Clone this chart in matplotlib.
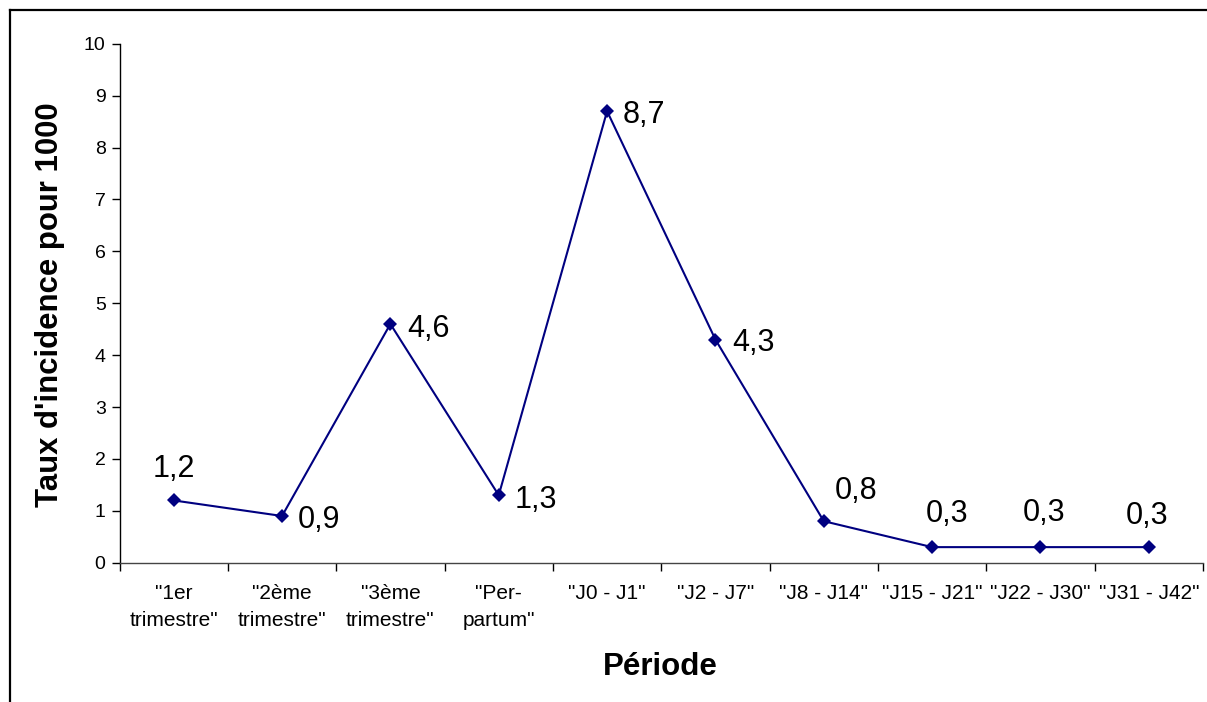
# -*- coding: utf-8 -*-
# Taux d'incidence par periode - courbe style Excel

import matplotlib
matplotlib.use('Agg')
import matplotlib.pyplot as plt
from matplotlib.lines import Line2D
import numpy as np

plt.rcParams['font.family'] = ['Liberation Sans', 'DejaVu Sans']

# Donnees
periodes = ['"1er\ntrimestre"', '"2ème\ntrimestre"', '"3ème\ntrimestre"', '"Per-\npartum"',
            '"J0 - J1"', '"J2 - J7"', '"J8 - J14"', '"J15 - J21"', '"J22 - J30"', '"J31 - J42"']
taux = [1.2, 0.9, 4.6, 1.3, 8.7, 4.3, 0.8, 0.3, 0.3, 0.3]
etiquettes = ['1,2', '0,9', '4,6', '1,3', '8,7', '4,3', '0,8', '0,3', '0,3', '0,3']

# placement des etiquettes (decalage en pixels, alignement)
decalages = [(0, 35, 'center'), (16, -1, 'left'), (17, -2, 'left'), (16, -1, 'left'),
             (16, 0, 'left'), (17, 0, 'left'), (32, 34, 'center'), (15, 37, 'center'),
             (4, 38, 'center'), (-2, 35, 'center')]

fig = plt.figure(figsize=(12.07, 7.02), dpi=100)
ax = fig.add_axes([119.5/1207, 1 - 562.7/702, (1203 - 119.5)/1207, (562.7 - 43.7)/702])

x = np.arange(len(taux))
ax.plot(x, taux, color='#000080', lw=1.5, marker='D', markersize=7.5, markeredgewidth=0)

for xi, yi, lab, (dx, dy, ha) in zip(x, taux, etiquettes, decalages):
    ax.annotate(lab, (xi, yi), xytext=(dx, dy), textcoords='offset pixels',
                ha=ha, va='center_baseline', fontsize=22, color='black')

ax.set_xlim(-0.5, len(taux) - 0.5)
ax.set_ylim(0, 10)
ax.set_yticks(range(0, 11))
ax.set_xticks(x)
ax.set_xticklabels(periodes, fontsize=15, linespacing=1.55)
ax.set_xticks(np.arange(-0.5, len(taux)), minor=True)
ax.tick_params(axis='x', which='major', length=0, pad=15)
ax.tick_params(axis='x', which='minor', length=6, width=1, color='black', direction='out')
ax.tick_params(axis='y', length=6, width=1, direction='out', labelsize=14, pad=4)

for s in ['top', 'right']:
    ax.spines[s].set_visible(False)
ax.spines['left'].set_linewidth(1)
ax.spines['bottom'].set_linewidth(1)
ax.spines['bottom'].set_color('#444444')

fig.text(50/1207, 1 - 305/702, "Taux d'incidence pour 1000", rotation=90,
         ha='center', va='center', fontsize=22.4, fontweight='bold')
fig.text(660/1207, 1 - 667/702, 'Période', ha='center', va='center',
         fontsize=22.5, fontweight='bold')

# cadre du graphique
fig.add_artist(Line2D([9.5/1207, 9.5/1207], [0, 1 - 10/702], color='black', lw=1.6))
fig.add_artist(Line2D([9.5/1207, 1], [1 - 10/702, 1 - 10/702], color='black', lw=1.6))

fig.savefig('out.png', dpi=100)
